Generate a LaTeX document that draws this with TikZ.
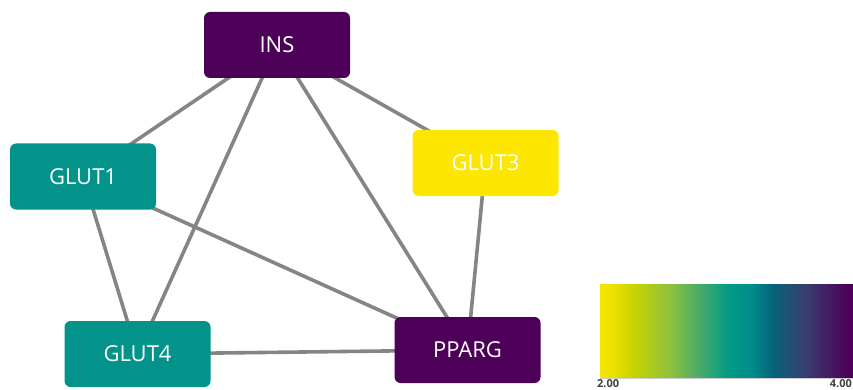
\documentclass[tikz,border=0pt]{standalone}
\usepackage{fontspec}
\setmainfont{Open Sans}
\usetikzlibrary{backgrounds}
\definecolor{vpurple}{HTML}{4C0057}
\definecolor{vteal}{HTML}{03938A}
\definecolor{vyellow}{HTML}{FDE700}
\definecolor{edgegray}{HTML}{858585}
\pgfdeclarehorizontalshading{viridisbar}{100bp}{
  color(0bp)=({rgb,255:red,245;green,230;blue,0});
  color(25bp)=({rgb,255:red,245;green,230;blue,0});
  color(27.5bp)=({rgb,255:red,235;green,224;blue,0});
  color(31.5bp)=({rgb,255:red,200;green,212;blue,0});
  color(39bp)=({rgb,255:red,140;green,192;blue,64});
  color(45.5bp)=({rgb,255:red,60;green,168;blue,112});
  color(50.5bp)=({rgb,255:red,0;green,154;blue,133});
  color(55bp)=({rgb,255:red,0;green,140;blue,138});
  color(59bp)=({rgb,255:red,6;green,99;blue,122});
  color(65.5bp)=({rgb,255:red,56;green,62;blue,110});
  color(74bp)=({rgb,255:red,76;green,0;blue,88});
  color(100bp)=({rgb,255:red,76;green,0;blue,88})
}
\begin{document}
\begin{tikzpicture}[x=1pt,y=-1pt,
    gene/.style={rounded corners=6pt,minimum width=146pt,minimum height=66pt,
      inner sep=0pt,text=white,font=\fontsize{22}{26}\selectfont},
    link/.style={draw=edgegray,line width=3.6pt},
    tick/.style={inner sep=1pt,text=black!75,font=\fontsize{11}{12}\selectfont\bfseries}]
  \useasboundingbox (0,0) rectangle (853,390);
  % nodes
  \node (INS)   at (277,45)    [gene,fill=vpurple] {INS};
  \node (GLUT1) at (83,176.5)  [gene,fill=vteal]   {GLUT1};
  \node (GLUT3) at (485.5,163) [gene,fill=vyellow] {GLUT3};
  \node (GLUT4) at (137.5,354) [gene,fill=vteal]   {GLUT4};
  \node (PPARG) at (467.5,350) [gene,fill=vpurple] {PPARG};
  % edges
  \begin{scope}[on background layer]
    \draw[link] (INS.center) -- (GLUT1.center);
    \draw[link] (INS.center) -- (GLUT4.center);
    \draw[link] (INS.center) -- (PPARG.center);
    \draw[link] (INS.center) -- (GLUT3.center);
    \draw[link] (GLUT1.center) -- (GLUT4.center);
    \draw[link] (GLUT1.center) -- (PPARG.center);
    \draw[link] (GLUT3.center) -- (PPARG.center);
    \draw[link] (GLUT4.center) -- (PPARG.center);
  \end{scope}
  % colour bar
  \node (bar) at (600,284) [anchor=north west,minimum width=253pt,minimum height=94pt,
    inner sep=0pt,shading=viridisbar] {};
  \draw[gray!40,line width=1pt] (bar.south west) -- (bar.south east);
  \node (lo) at (596,378) [anchor=north west,tick] {2.00};
  \node (hi) at (853,378) [anchor=north east,tick] {4.00};
\end{tikzpicture}
\end{document}
